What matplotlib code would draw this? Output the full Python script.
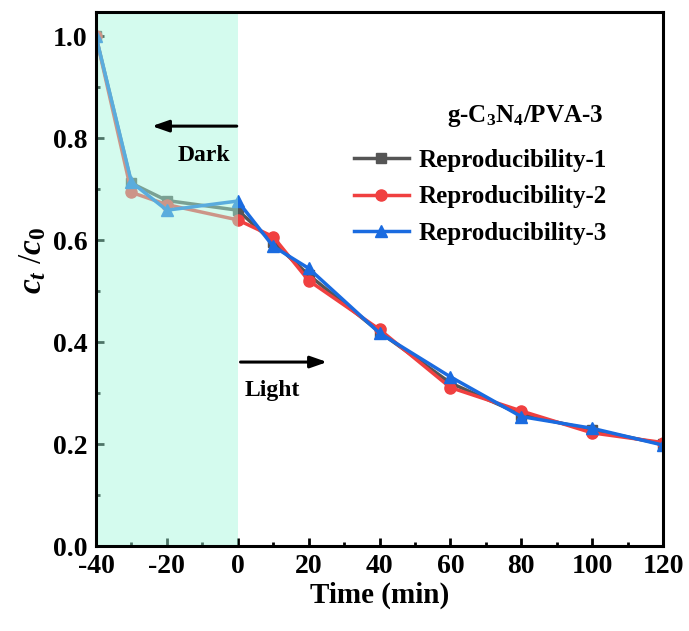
import matplotlib
matplotlib.use("Agg")
import matplotlib.pyplot as plt
from matplotlib.ticker import MultipleLocator

plt.rcParams['font.family'] = ['Liberation Serif', 'DejaVu Serif']
plt.rcParams['font.weight'] = 'bold'
plt.rcParams['axes.unicode_minus'] = False
plt.rcParams['mathtext.fontset'] = 'custom'
plt.rcParams['mathtext.rm'] = 'Liberation Serif:bold'
plt.rcParams['mathtext.it'] = 'Liberation Serif:italic:bold'
plt.rcParams['mathtext.bf'] = 'Liberation Serif:bold'

time = [-40, -30, -20, 0, 10, 20, 40, 60, 80, 100, 120]
rep1 = [1.00, 0.712, 0.678, 0.659, 0.596, 0.532, 0.420, 0.320, 0.258, 0.228, 0.200]
rep2 = [1.00, 0.694, 0.670, 0.640, 0.607, 0.521, 0.425, 0.311, 0.265, 0.222, 0.203]
rep3 = [1.00, 0.714, 0.659, 0.677, 0.588, 0.545, 0.418, 0.332, 0.254, 0.231, 0.198]
labels = ["Reproducibility-1", "Reproducibility-2", "Reproducibility-3"]

fig = plt.figure(figsize=(6.89, 6.31), dpi=100)
ax = fig.add_axes([0.1393, 0.1347, 0.8230, 0.8463])

ax.plot(time, rep1, color='#555555', lw=2.5, marker='s', ms=7, label=labels[0], zorder=2)
ax.plot(time, rep2, color='#f04040', lw=2.5, marker='o', ms=8, label=labels[1], zorder=2.1)
ax.plot(time, rep3, color='#1a6be0', lw=2.5, marker='^', ms=8, label=labels[2], zorder=2.2)

ax.axvspan(-40, 0, color='#a4f7db', alpha=0.47, lw=0, zorder=3)

ax.set_xlim(-40, 120)
ax.set_ylim(0, 1.048)
ax.xaxis.set_major_locator(MultipleLocator(20))
ax.xaxis.set_minor_locator(MultipleLocator(10))
ax.yaxis.set_major_locator(MultipleLocator(0.2))
ax.yaxis.set_minor_locator(MultipleLocator(0.1))
ax.yaxis.set_major_formatter(matplotlib.ticker.FormatStrFormatter('%.1f'))
ax.tick_params(which='major', direction='in', length=6, width=2, labelsize=20, pad=6)
ax.tick_params(which='minor', direction='in', length=3, width=2)
for sp in ax.spines.values():
    sp.set_linewidth(2.2)
    sp.set_zorder(4)

ax.set_xlabel('Time (min)', fontsize=21, fontweight='bold', labelpad=2)
ax.set_ylabel(r'$c_t$ /$c_0$', fontsize=24, labelpad=4)
ax.yaxis.set_label_coords(-0.085, 0.535)

ax.annotate('', xy=(-25, 0.824), xytext=(0.5, 0.824),
            arrowprops=dict(arrowstyle='-|>,head_length=1.0,head_width=0.35', color='black', lw=2.2),
            zorder=5)
ax.text(-9.5, 0.766, 'Dark', fontsize=17, fontweight='bold', ha='center', va='center', zorder=5)
ax.annotate('', xy=(26, 0.361), xytext=(0, 0.361),
            arrowprops=dict(arrowstyle='-|>,head_length=1.0,head_width=0.35', color='black', lw=2.2),
            zorder=5)
ax.text(9.8, 0.306, 'Light', fontsize=17, fontweight='bold', ha='center', va='center', zorder=5)

ax.text(81, 0.843, r'g-C$_3$N$_4$/PVA-3', fontsize=18, fontweight='bold', ha='center', va='center')

leg = ax.legend(loc='center left', bbox_to_anchor=(0.455, 0.654), frameon=False,
                prop={'size': 18, 'weight': 'bold'}, handlelength=2.2, handletextpad=0.4,
                labelspacing=0.55, borderaxespad=0, borderpad=0)

fig.savefig('out.png', dpi=100)
